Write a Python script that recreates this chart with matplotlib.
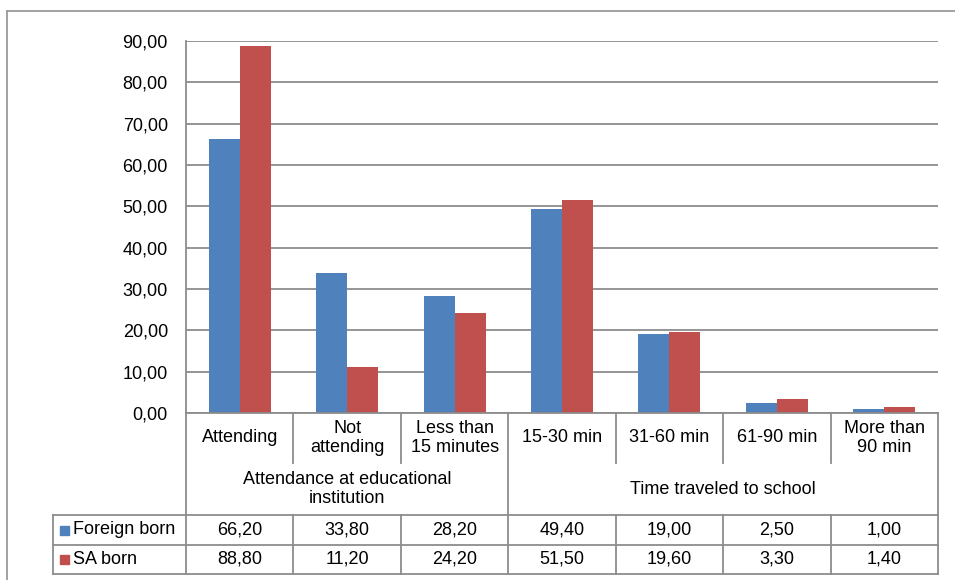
import numpy as np
import matplotlib.pyplot as plt
from matplotlib.lines import Line2D
from matplotlib.patches import Rectangle
from matplotlib.transforms import blended_transform_factory

plt.rcParams['font.family'] = ['Liberation Sans', 'DejaVu Sans']

categories = ["Attending", "Not\nattending", "Less than\n15 minutes", "15-30 min",
              "31-60 min", "61-90 min", "More than\n90 min"]
groups = ["Attendance at educational\ninstitution", "Time traveled to school"]
group_sizes = [3, 4]
series_names = ["Foreign born", "SA born"]
foreign_born = [66.2, 33.8, 28.2, 49.4, 19.0, 2.5, 1.0]
sa_born = [88.8, 11.2, 24.2, 51.5, 19.6, 3.3, 1.4]
colors = ["#4F81BD", "#C0504D"]

W, H = 955, 580
fig = plt.figure(figsize=(W / 100, H / 100), dpi=100)


def fy(py):
    """pixel row -> figure fraction"""
    return 1 - py / H


def fx(px):
    return px / W


ax = fig.add_axes([fx(186), fy(413), fx(938) - fx(186), fy(41) - fy(413)])

x = np.arange(len(categories))
w = 0.289
ax.bar(x - w / 2, foreign_born, w, color=colors[0], zorder=3)
ax.bar(x + w / 2, sa_born, w, color=colors[1], zorder=3)

ax.set_xlim(-0.5, len(categories) - 0.5)
ax.set_ylim(0, 90)
ax.set_yticks(np.arange(0, 91, 10))
ax.set_yticklabels([f"{v:.2f}".replace(".", ",") for v in np.arange(0, 91, 10)])
ax.set_xticks([])
ax.tick_params(axis='y', length=0, pad=13, labelsize=13)
ax.grid(axis='y', color='#8c8c8c', lw=1.3, zorder=0)
for s in ['top', 'right', 'bottom']:
    ax.spines[s].set_visible(False)
ax.spines['left'].set_color('#8c8c8c')
ax.spines['left'].set_linewidth(1.3)

# data table under the plot
grid_c = '#8c8c8c'
lw = 1.3
tr = blended_transform_factory(ax.transData, fig.transFigure)
y_top, y_cat, y_grp, y_r1, y_r2 = 413, 463, 515, 545, 574


def hline(x0, x1, py):
    fig.add_artist(Line2D([fx(x0), fx(x1)], [fy(py), fy(py)], color=grid_c, lw=lw))


def vline(xd, py0, py1):
    fig.add_artist(Line2D([xd, xd], [fy(py0), fy(py1)], color=grid_c, lw=lw, transform=tr))


left_px = 53
for py in [y_top, y_grp, y_r1, y_r2]:
    hline(left_px if py != y_top else 186, 938, py)
fig.add_artist(Line2D([fx(left_px)] * 2, [fy(y_grp), fy(y_r2)], color=grid_c, lw=lw))
vline(-0.5, y_top, y_r2)
vline(len(categories) - 0.5, y_top, y_r2)

bounds = np.cumsum(group_sizes)
for i in range(1, len(categories)):
    if i in bounds:
        vline(i - 0.5, y_top, y_r2)
    else:
        vline(i - 0.5, y_top, y_cat)
        vline(i - 0.5, y_grp, y_r2)

fs = 13
for i, lab in enumerate(categories):
    fig.text(i, fy((y_top + y_cat) / 2), lab, transform=tr, ha='center', va='center',
             fontsize=fs, linespacing=1.22)

start = 0
for g, n in zip(groups, group_sizes):
    fig.text(start + (n - 1) / 2, fy((y_cat + y_grp) / 2), g, transform=tr,
             ha='center', va='center', fontsize=fs, linespacing=1.22)
    start += n

rows = [foreign_born, sa_born]
row_mid = [(y_grp + y_r1) / 2, (y_r1 + y_r2) / 2]
for name, vals, c, py in zip(series_names, rows, colors, row_mid):
    fig.add_artist(Rectangle((fx(60), fy(py + 4.5)), fx(9), 9 / H, color=c))
    fig.text(fx(73), fy(py), name, ha='left', va='center', fontsize=fs)
    for i, v in enumerate(vals):
        fig.text(i, fy(py), f"{v:.2f}".replace(".", ","), transform=tr,
                 ha='center', va='center', fontsize=fs)

# outer chart border (cut off by the image edges)
fig.add_artist(Line2D([fx(7), 1.0], [fy(11), fy(11)], color='#9a9a9a', lw=1.3))
fig.add_artist(Line2D([fx(7), fx(7)], [fy(11), 0.0], color='#9a9a9a', lw=1.3))

fig.savefig("out.png", dpi=100)
